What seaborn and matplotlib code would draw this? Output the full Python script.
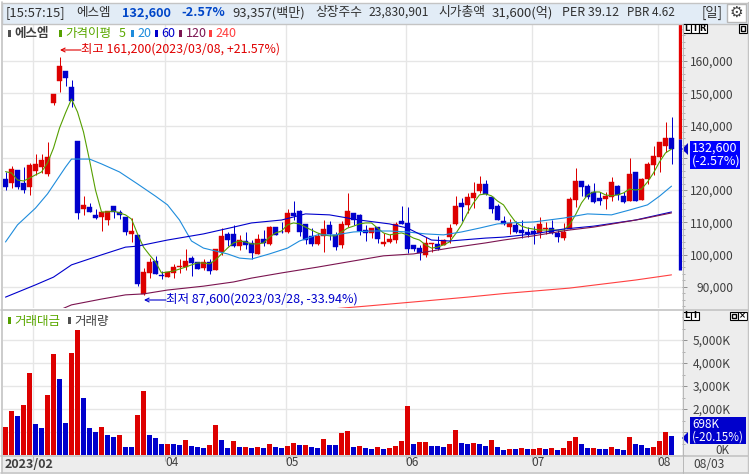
import matplotlib
matplotlib.use("Agg")
import matplotlib.pyplot as plt
import numpy as np
import seaborn as sns
from matplotlib.patches import Rectangle, Polygon
from matplotlib.ticker import FuncFormatter, MultipleLocator

# ---------- data (prices in thousand won, volume in thousand shares) ----------
opens = [123.4,122.3,126.2,122.2,120.9,125.9,127.1,125.0,147.0,153.8,156.9,151.9,135.2,114.1,114.7,112.3,111.6,110.7,115.0,113.2,
 111.6,106.4,106.1,87.8,94.3,98.0,93.7,93.0,94.3,96.2,96.1,98.9,97.7,95.8,97.7,95.2,100.8,106.4,106.4,102.6,
 104.2,103.6,100.2,104.8,103.3,108.5,107.1,107.0,112.9,113.5,109.5,105.8,103.3,105.8,109.2,106.1,103.0,109.2,112.9,112.3,
 107.6,106.7,108.5,103.3,103.9,104.5,110.4,109.8,103.0,102.0,99.9,103.3,103.3,103.0,105.4,109.5,116.0,115.4,117.5,119.7,
 121.9,117.8,115.0,110.4,108.5,109.2,107.6,107.0,107.3,106.7,107.9,108.2,106.7,105.1,107.9,116.9,122.8,121.2,119.4,117.5,
 117.2,117.8,121.2,118.1,116.6,125.6,116.9,123.4,127.7,130.2,133.7,136.1]
closes = [120.9,126.4,120.9,120.0,127.8,128.1,129.3,130.2,149.8,158.4,154.7,147.6,112.9,115.4,113.2,111.3,113.2,113.5,113.2,112.3,
 107.0,107.3,90.9,94.6,97.7,94.0,93.5,94.6,96.1,96.4,98.0,97.4,95.5,97.7,94.9,101.7,105.8,104.5,102.6,104.5,
 103.0,100.5,104.8,103.6,108.5,106.1,107.0,112.9,112.0,107.0,104.5,103.3,105.8,107.9,106.4,102.3,109.5,113.5,110.7,107.3,
 106.7,108.2,104.8,103.9,104.8,109.5,109.5,101.7,101.7,100.5,103.6,103.6,101.7,104.5,108.2,115.0,114.7,117.8,119.1,121.9,
 118.8,114.1,110.7,109.5,109.8,107.0,106.7,106.4,106.4,109.5,108.2,106.7,105.4,107.0,117.2,122.8,120.9,117.8,116.3,116.6,
 118.1,122.5,118.5,116.3,125.0,116.6,123.4,128.1,130.6,134.9,136.1,132.6]
highs = [125.6,127.4,126.2,127.1,128.4,131.2,131.2,134.9,149.8,161.2,156.9,154.1,135.2,118.1,116.0,114.1,113.2,113.5,115.0,113.8,
 111.6,111.3,106.1,95.8,98.9,99.6,94.9,94.6,97.1,98.6,101.7,99.6,97.7,98.6,98.6,101.7,108.2,107.0,109.2,106.1,
 107.0,104.5,106.4,107.6,108.8,108.5,110.1,114.1,116.6,113.8,109.5,108.2,106.7,110.7,110.4,107.0,110.4,119.1,112.9,112.6,
 109.2,108.2,108.5,106.7,106.4,110.1,115.0,114.7,103.0,103.0,105.4,103.6,105.8,104.8,109.5,118.1,117.5,119.1,122.5,124.3,
 123.1,117.8,115.7,111.9,111.0,110.4,110.7,108.5,108.8,111.6,110.1,110.7,107.6,109.8,117.8,126.8,122.8,121.9,122.2,119.4,
 119.4,124.0,121.6,119.4,129.9,125.6,123.7,128.7,133.7,134.9,141.1,142.6]
lows = [120.0,120.6,120.3,119.1,118.4,124.7,125.3,124.3,146.4,150.4,152.2,145.7,111.0,112.3,113.2,111.0,107.3,109.2,111.3,111.0,
 106.1,103.9,90.3,87.6,92.7,94.0,92.4,93.0,92.7,94.3,95.2,93.4,95.5,95.2,94.0,95.2,99.9,102.6,102.3,101.4,
 101.7,98.6,100.2,102.6,103.0,106.1,106.7,106.7,110.7,105.8,103.3,102.6,103.0,100.8,104.5,101.4,102.0,108.5,109.2,106.1,
 104.2,105.1,103.6,102.6,103.6,103.6,109.5,100.5,101.1,98.3,99.2,100.8,101.4,103.0,103.6,109.2,110.4,112.9,114.4,119.1,
 118.4,112.9,110.7,109.2,106.4,106.7,105.1,105.4,103.3,105.1,106.4,106.4,103.9,104.5,107.9,114.7,118.1,117.2,116.0,115.4,
 114.1,116.6,116.9,116.0,116.6,116.6,116.9,121.9,124.7,125.6,131.8,128.1]

ma5 = [125.7,125.3,123.1,122.8,123.7,124.7,125.6,128.4,133.0,139.2,143.9,148.2,144.2,138.0,129.3,120.0,113.2,113.2,113.5,112.9,
 112.3,111.0,106.4,102.3,99.9,97.7,94.3,94.6,94.9,95.5,96.1,96.8,97.4,97.4,97.1,98.3,100.2,102.0,103.6,104.2,
 103.9,103.3,103.3,103.6,105.4,106.7,107.3,109.2,109.8,109.5,108.5,107.6,106.7,106.1,105.8,105.8,107.0,108.2,108.8,109.5,
 109.8,109.8,108.2,106.7,106.1,106.4,106.7,106.1,105.1,104.5,103.0,102.0,102.3,103.0,103.9,106.4,109.2,112.9,116.0,118.5,
 118.8,118.2,116.6,115.4,112.6,110.1,108.8,108.2,107.9,107.6,107.6,107.6,107.6,107.6,109.2,112.3,116.0,118.5,119.4,119.4,
 118.5,118.2,118.5,119.1,120.3,120.0,120.3,122.5,125.3,128.7,131.5,132.7]

ma20_idx = [0,2,5,7,10,11,14,16,19,22,25,27,29,31,33,35,37,39,41,44,47,49,52,55,58,61,64,67,70,73,76,79,82,84,88,93,97,101,104,107,109,111]
ma20 = [103.9,109.2,114.4,118.8,127.1,129.6,129.6,128.1,125.6,121.9,118.1,115.4,110.7,104.2,102.0,101.1,100.2,98.9,98.6,100.2,102.0,104.2,106.1,106.1,107.0,107.3,107.3,107.0,106.4,106.1,107.0,108.2,109.5,109.8,110.1,111.3,112.6,112.3,113.8,115.4,118.1,121.2]
ma60_idx = [0,5,8,11,16,20,22,27,33,38,41,46,50,54,59,64,67,71,74,80,83,88,93,98,105,111]
ma60 = [86.8,90.6,93.0,96.8,99.9,102.3,102.6,104.5,106.4,108.5,109.8,110.7,112.6,112.3,110.7,109.5,108.2,104.5,104.2,105.1,105.4,106.4,107.9,108.8,110.7,113.2]
ma120_idx = [9,11,16,20,23,27,33,38,41,46,52,57,63,68,74,80,83,88,94,98,106,111]
ma120 = [82.8,84.4,86.2,87.5,87.8,89.0,90.2,91.5,92.7,94.3,96.1,97.7,99.6,100.2,102.0,103.6,104.5,105.8,107.6,108.5,111.0,112.9]
ma240_idx = [51,60,68,77,83,94,105,111]
ma240 = [82.6,84.0,85.3,86.8,87.9,89.6,92.1,93.7]

volume = [1218,1914,1697,2175,3567,1349,1175,2610,4394,3306,1392,4437,5438,2480,1175,1001,1218,870,783,870,
 348,348,1740,2784,870,740,479,479,479,435,653,392,348,305,435,1305,653,305,609,348,
 348,305,348,305,479,348,305,392,522,435,435,348,305,696,435,435,957,1044,348,392,
 305,261,348,261,305,392,609,2132,479,566,566,392,392,348,479,1088,522,479,522,479,
 392,653,348,218,261,261,305,261,261,305,261,305,218,305,609,783,479,305,305,261,
 261,348,261,218,783,479,435,305,348,609,1001,826]
volume_dir = list("rrbrrbbrrbbrrbbbrbbrbbrrbbbrbbrbbbrrbbrbrb"   # 0-41
                  "rbrbbrrbrbbrbbrrbrbbrbrrrrbrrbbbrrbbrbbrb"    # 42-82
                  "brbrbrrbrbrrrbbrbbrbbrbbbrrrb")               # 83-111

month_idx = [4.58, 26.58, 46.67, 66.67, 87.67, 108.67]
month_labels = ["", "04", "05", "06", "07", "08"]
price_ticks = [90, 100, 110, 120, 130, 140, 150, 160]
hidden_price_labels = [130]
vol_ticks = [1000, 2000, 3000, 4000, 5000]
hidden_vol_labels = [1000]
range_red = [135.8, 171.5]
range_blue = [95.2, 135.8]

# ---------- colours ----------
RED, BLUE = "#dd0000", "#0000cc"
C5, C20, C60, C120, C240 = "#559f00", "#1e8cdc", "#0000cc", "#7b1450", "#ff4040"
GRID, PANEL, EDGE, TXT = "#e6e6e6", "#ededed", "#c4c4c4", "#404040"

sns.set_theme(style="white")
FAM = ["Noto Sans CJK KR", "DejaVu Sans"]
plt.rcParams["font.family"] = FAM

W, H = 749, 474
fig = plt.figure(figsize=(W / 100, H / 100), dpi=100, facecolor="white")

def rect_ax(x0, y0, x1, y1, **kw):
    return fig.add_axes([x0 / W, 1 - y1 / H, (x1 - x0) / W, (y1 - y0) / H], **kw)

# background chrome in pixel coordinates
bg = fig.add_axes([0, 0, 1, 1], zorder=-1)
bg.set_xlim(0, W); bg.set_ylim(H, 0); bg.axis("off")
bg.add_patch(Rectangle((682, 24), 66, 449, fc=PANEL, ec="none"))
bg.add_patch(Rectangle((2, 456), 680, 16, fc=PANEL, ec="none"))

xlim = ((3 - 5.5) / 6, (682 - 5.5) / 6)
idx = np.arange(len(closes))

# ---------- price pane ----------
ax = rect_ax(3, 24, 682, 308, zorder=1)
ax.set_xlim(*xlim)
ax.set_ylim(178.91 - 0.31 * 308, 178.91 - 0.31 * 24)
ax.set_xticks(month_idx)
ax.set_yticks(price_ticks)
ax.grid(True, color=GRID, lw=1.0, zorder=0)
ax.set_axisbelow(True)
for s in ax.spines.values():
    s.set_visible(False)

o, c, h, l = map(np.array, (opens, closes, highs, lows))
cols = np.where(c < o, BLUE, RED)
ax.vlines(idx, l, h, colors=cols, lw=0.72, zorder=2)
ax.bar(idx, np.abs(c - o), bottom=np.minimum(o, c), width=5 / 6, color=cols, edgecolor=cols,
       linewidth=0.3, zorder=3)

for xs, ys, col in [(idx, ma5, C5), (ma20_idx, ma20, C20), (ma60_idx, ma60, C60),
                    (ma120_idx, ma120, C120), (ma240_idx, ma240, C240)]:
    sns.lineplot(x=np.array(xs), y=np.array(ys), color=col, lw=0.8, ax=ax, legend=False,
                 errorbar=None, zorder=4)
ax.set_xlim(*xlim)
ax.set_xlabel(""); ax.set_ylabel("")

ax.vlines([112.42], *range_red, colors="#e60000", lw=2.4, zorder=5)
ax.vlines([112.42], *range_blue, colors="#0000cc", lw=2.4, zorder=5)

ax.tick_params(axis="x", length=0, labelbottom=False)
ax.yaxis.tick_right()
ax.yaxis.set_minor_locator(MultipleLocator(2))
ax.yaxis.set_major_formatter(FuncFormatter(lambda v, _: "" if v in hidden_price_labels else f"{v * 1000:,.0f}"))
ax.tick_params(axis="y", which="major", length=3.4, width=0.7, color="#909090", pad=34,
               labelsize=8.6, labelcolor=TXT, right=True, labelright=True, left=False, labelleft=False)
ax.tick_params(axis="y", which="minor", length=2, width=0.7, color="#b0b0b0", right=True, left=False)
for t in ax.yaxis.get_major_ticks():
    t.label2.set_ha("right")

# ---------- volume pane ----------
vx = rect_ax(3, 311, 682, 455, zorder=1)
sns.barplot(x=idx, y=np.array(volume), native_scale=True, width=5 / 6, color=RED, saturation=1,
            ax=vx, zorder=3, errorbar=None, linewidth=0)
for bar, d in zip(vx.patches, volume_dir):
    bar.set_facecolor(RED if d == "r" else BLUE)
vx.set_xlim(*xlim)
vx.set_ylim(0, 144 / 23 * 1000)
vx.set_xlabel(""); vx.set_ylabel("")
vx.set_yticks(vol_ticks)
vx.yaxis.set_minor_locator(MultipleLocator(500))
vx.yaxis.set_major_formatter(FuncFormatter(lambda v, _: "" if v in hidden_vol_labels else f"{v:,.0f}K"))
vx.set_xticks(month_idx)
vx.set_xticklabels(month_labels)
vx.grid(True, color=GRID, lw=1.0, zorder=0)
vx.set_axisbelow(True)
for s in vx.spines.values():
    s.set_visible(False)
vx.tick_params(axis="x", length=4, width=0.8, color="#b8b8b8", pad=-3, labelsize=8.6, labelcolor=TXT, bottom=True)
for lab in vx.get_xticklabels():
    lab.set_ha("left")
vx.yaxis.tick_right()
vx.tick_params(axis="y", which="major", length=3.4, width=0.7, color="#909090", pad=31.5,
               labelsize=8.6, labelcolor=TXT, right=True, labelright=True, left=False, labelleft=False)
vx.tick_params(axis="y", which="minor", length=2, width=0.7, color="#b0b0b0", right=True, left=False)
for t in vx.yaxis.get_major_ticks():
    t.label2.set_ha("right")

# ---------- overlay chrome ----------
ov = fig.add_axes([0, 0, 1, 1], zorder=10)
ov.set_xlim(0, W); ov.set_ylim(H, 0); ov.axis("off"); ov.patch.set_alpha(0)

def T(x, y, s, color=TXT, ha="left", size=8.6, weight="normal", **kw):
    ov.text(x, y, s, color=color, ha=ha, va="center", fontsize=size, fontweight=weight, family=FAM, **kw)

def box(x, y, w, h, fc="none", ec="#000000", lw=0.8):
    ov.add_patch(Rectangle((x, y), w, h, fc=fc, ec=ec, lw=lw))

# frame lines
for y0 in (309.5, 455.5, 472.5):
    ov.plot([1, 748], [y0, y0], color=EDGE, lw=1.2)
ov.plot([1.5, 1.5], [2, 473], color=EDGE, lw=1.2)
ov.plot([747.8, 747.8], [2, 473], color=EDGE, lw=1.0)
ov.plot([682.5, 682.5], [24, 473], color="#b8b8b8", lw=0.7)

# header
box(1.5, 2.5, 746, 21, fc="#e2ecf6", ec=EDGE, lw=1.0)
T(6, 12.5, "[15:57:15]", color="#303030", size=9.4)
T(76, 12.5, "에스엠", color="#303030", size=9)
T(122, 12.5, "132,600", color="#0046c8", weight="bold", size=9.2)
T(181, 12.5, "-2.57%", color="#0046c8", weight="bold", size=9.2)
T(232, 12.5, "93,357(백만)", color="#303030", size=9.4)
T(315, 12.5, "상장주수", color="#303030", size=9.2)
T(368, 12.5, "23,830,901", color="#303030", size=8.7)
T(438, 12.5, "시가총액", color="#303030", size=9.2)
T(492, 12.5, "31,600(억)", color="#303030", size=9.5)
T(562, 12.5, "PER 39.12", color="#303030", size=9)
T(627, 12.5, "PBR 4.62", color="#303030", size=8.4)
T(702, 12.5, "[일]", color="#303030", size=9.6)
box(727, 3.5, 19, 18, fc="white", ec="#b8b8b8", lw=1.0)
ov.text(736.5, 12.5, "\u2699", ha="center", va="center", fontsize=11, color="#404040", family="DejaVu Sans")

# price legend
for x, col in [(8, "#505050"), (59, C5), (131, C20), (155, C60), (179, C120), (209, C240)]:
    ov.add_patch(Rectangle((x, 30), 2.5, 7, fc=col, ec="none"))
T(14, 33.5, "에스엠", color="#404040", size=9, weight="bold")
T(65, 33.5, "가격이평", color="#5aa800", size=9)
T(119, 33.5, "5", color="#5aa800", size=9)
T(137, 33.5, "20", color=C20, size=9)
T(161, 33.5, "60", color=C60, size=9)
T(186, 33.5, "120", color=C120, size=9)
T(215, 33.5, "240", color=C240, size=9)

# hi/lo notes
ov.annotate("", xy=(60, 50), xytext=(81, 50),
            arrowprops=dict(arrowstyle="->", color="#e00000", lw=0.8, shrinkA=0, shrinkB=0, mutation_scale=7))
T(81, 49.5, "최고 161,200(2023/03/08, +21.57%)", color="#e00000", size=8.9)
ov.annotate("", xy=(144, 300), xytext=(166, 300),
            arrowprops=dict(arrowstyle="->", color="#0000cc", lw=0.8, shrinkA=0, shrinkB=0, mutation_scale=7))
T(166, 299.5, "최저 87,600(2023/03/28, -33.94%)", color="#0000cc", size=9)

# current price flag
ov.add_patch(Rectangle((690, 141), 50, 28, fc="#0000ff", ec="none"))
ov.add_patch(Polygon([(682, 149), (688, 143), (688, 155)], fc="#0000cc", ec="none"))
T(692, 155, "132,600\n(-2.57%)", color="white", size=9, linespacing=1.0)

# volume legend
ov.add_patch(Rectangle((8, 317), 2.5, 7, fc=C5, ec="none"))
ov.add_patch(Rectangle((68, 317), 2.5, 7, fc="#505050", ec="none"))
T(14, 321, "거래대금", color="#5aa800", size=9)
T(74, 321, "거래량", color="#404040", size=9)

# volume flag
ov.add_patch(Rectangle((690, 417), 56, 27, fc="#0000cc", ec="none"))
ov.add_patch(Polygon([(682, 438), (688, 432), (688, 444)], fc="#0000cc", ec="none"))
T(692, 430.5, "698K\n(-20.15%)", color="white", size=8.4, linespacing=1.0)
T(729, 450.5, "0K", ha="right", size=8.4)

# bottom axis
T(5, 464, "2023/02", color="#404040", weight="bold", size=9)
T(693, 464.5, "08/03", size=8.6)

# L I R buttons
def buttons(x, y, labels, w=8):
    for k, s in enumerate(labels):
        box(x + k * w, y, w, 8.5, fc="white")
        ov.text(x + k * w + w / 2, y + 4.2, s, ha="center", va="center", fontsize=6, color="black",
                fontweight="bold", family="DejaVu Sans")

buttons(683, 24, ["L", "I", "R"])
box(738.5, 24, 8, 8.5, fc="white")
box(740.5, 26, 4, 4.5, lw=1.0)
buttons(683, 311.5, ["L", "I"])
box(729.5, 311.5, 8.5, 8.5, fc="white")
box(731.5, 313.5, 4.5, 4.5, lw=1.0)
buttons(738, 311.5, ["×"], w=9)

fig.savefig("out.png", dpi=100)
